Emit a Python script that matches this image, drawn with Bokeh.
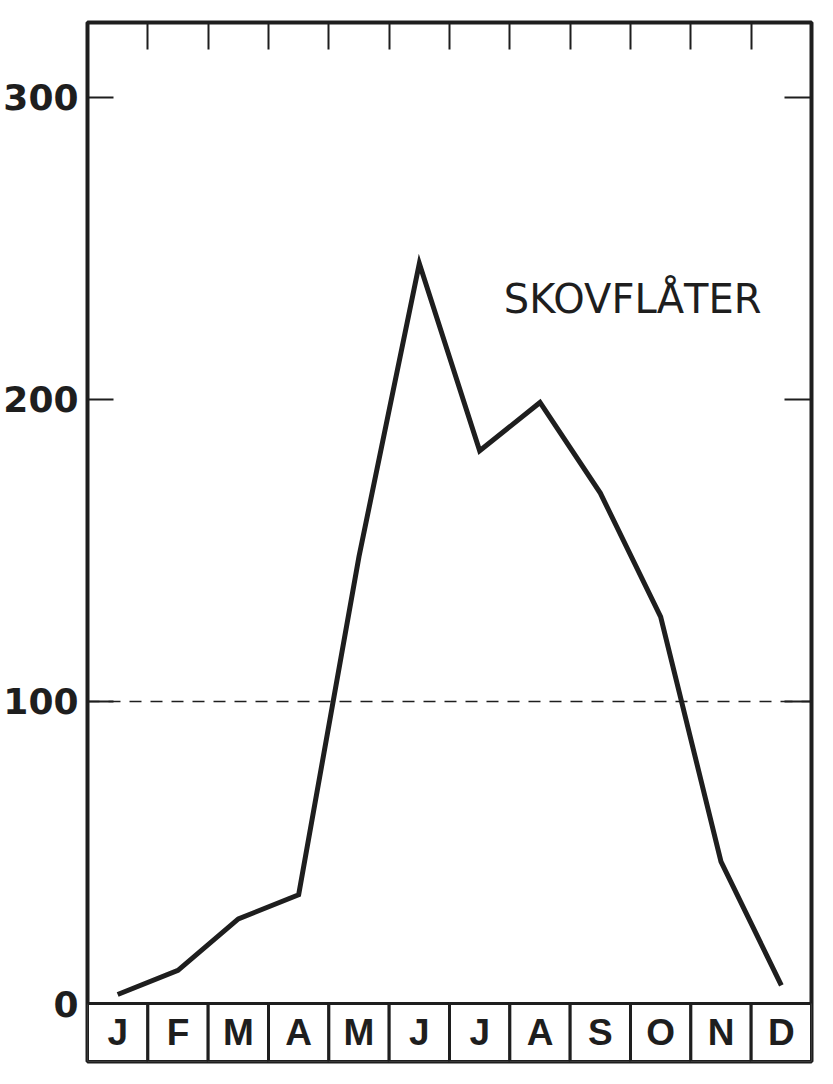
from bokeh.plotting import figure
from bokeh.models import Range1d, LinearAxis, FixedTicker, Span, Label
from bokeh.core.properties import value
from bokeh.embed import file_html
from bokeh.resources import INLINE

# ---- data ----
MONTHS = ["J", "F", "M", "A", "M", "J", "J", "A", "S", "O", "N", "D"]
VALUES = [3, 11, 28, 36, 148, 245, 183, 199, 169, 128, 47, 6]
Y_TICKS = [0, 100, 200, 300]
REF_LEVEL = 100
LABEL = "SKOVFLÅTER"

INK = "#1e1e1e"
xs = list(range(1, len(MONTHS) + 1))
y_lo, y_hi = -19.2, 324.8

p = figure(width=825, height=1074,
           x_range=Range1d(0.5, len(MONTHS) + 0.5),
           y_range=Range1d(y_lo, y_hi),
           output_backend="svg", toolbar_location=None,
           x_axis_location=None, y_axis_location=None,
           min_border_left=86, min_border_right=14,
           min_border_top=22, min_border_bottom=13)
p.grid.visible = False
p.outline_line_color = INK
p.outline_line_width = 4
p.background_fill_color = "white"
p.border_fill_color = "white"

def style_axis(ax, show_labels=False, tick_len=26):
    ax.axis_line_color = None
    ax.major_tick_in = tick_len
    ax.major_tick_out = 0
    ax.major_tick_line_width = 2
    ax.major_tick_line_color = INK
    ax.minor_tick_line_color = None
    if show_labels:
        ax.major_label_standoff = 9
        ax.major_label_text_font = "DejaVu Sans"
        ax.major_label_text_font_style = "bold"
        ax.major_label_text_font_size = "36px"
        ax.major_label_text_color = INK
    else:
        ax.major_label_standoff = 0
        ax.major_label_text_font_size = "0px"
        ax.major_label_text_color = None

left = LinearAxis(ticker=FixedTicker(ticks=Y_TICKS))
style_axis(left, show_labels=True)
p.add_layout(left, "left")

right = LinearAxis(ticker=FixedTicker(ticks=[t for t in Y_TICKS if t > 0]))
style_axis(right, tick_len=27)
p.add_layout(right, "right")

top = LinearAxis(ticker=FixedTicker(ticks=[x + 0.5 for x in xs[:-1]]))
style_axis(top, tick_len=27)
p.add_layout(top, "above")

# reference level
p.add_layout(Span(location=REF_LEVEL, dimension="width", line_color=INK,
                  line_width=1.5, line_dash="12 9", level="underlay"))

# month boxes
p.quad(left=[x - 0.5 for x in xs], right=[x + 0.5 for x in xs],
       bottom=y_lo, top=0, fill_color="white", line_color=INK, line_width=3)
p.text(x=xs, y=[y_lo / 2] * len(xs), text=MONTHS, text_align="center",
       text_baseline="middle", text_font=value("Liberation Sans"),
       text_font_style="bold", text_font_size="37px", text_color=INK)

# series
p.line(xs, VALUES, line_width=5, line_color=INK, line_join="miter")

p.add_layout(Label(x=7.4, y=233.4, text=LABEL, text_font="DejaVu Sans",
                   text_font_size="40px", text_color=INK,
                   text_baseline="alphabetic"))

open("out.html", "w").write(file_html(p, INLINE))
